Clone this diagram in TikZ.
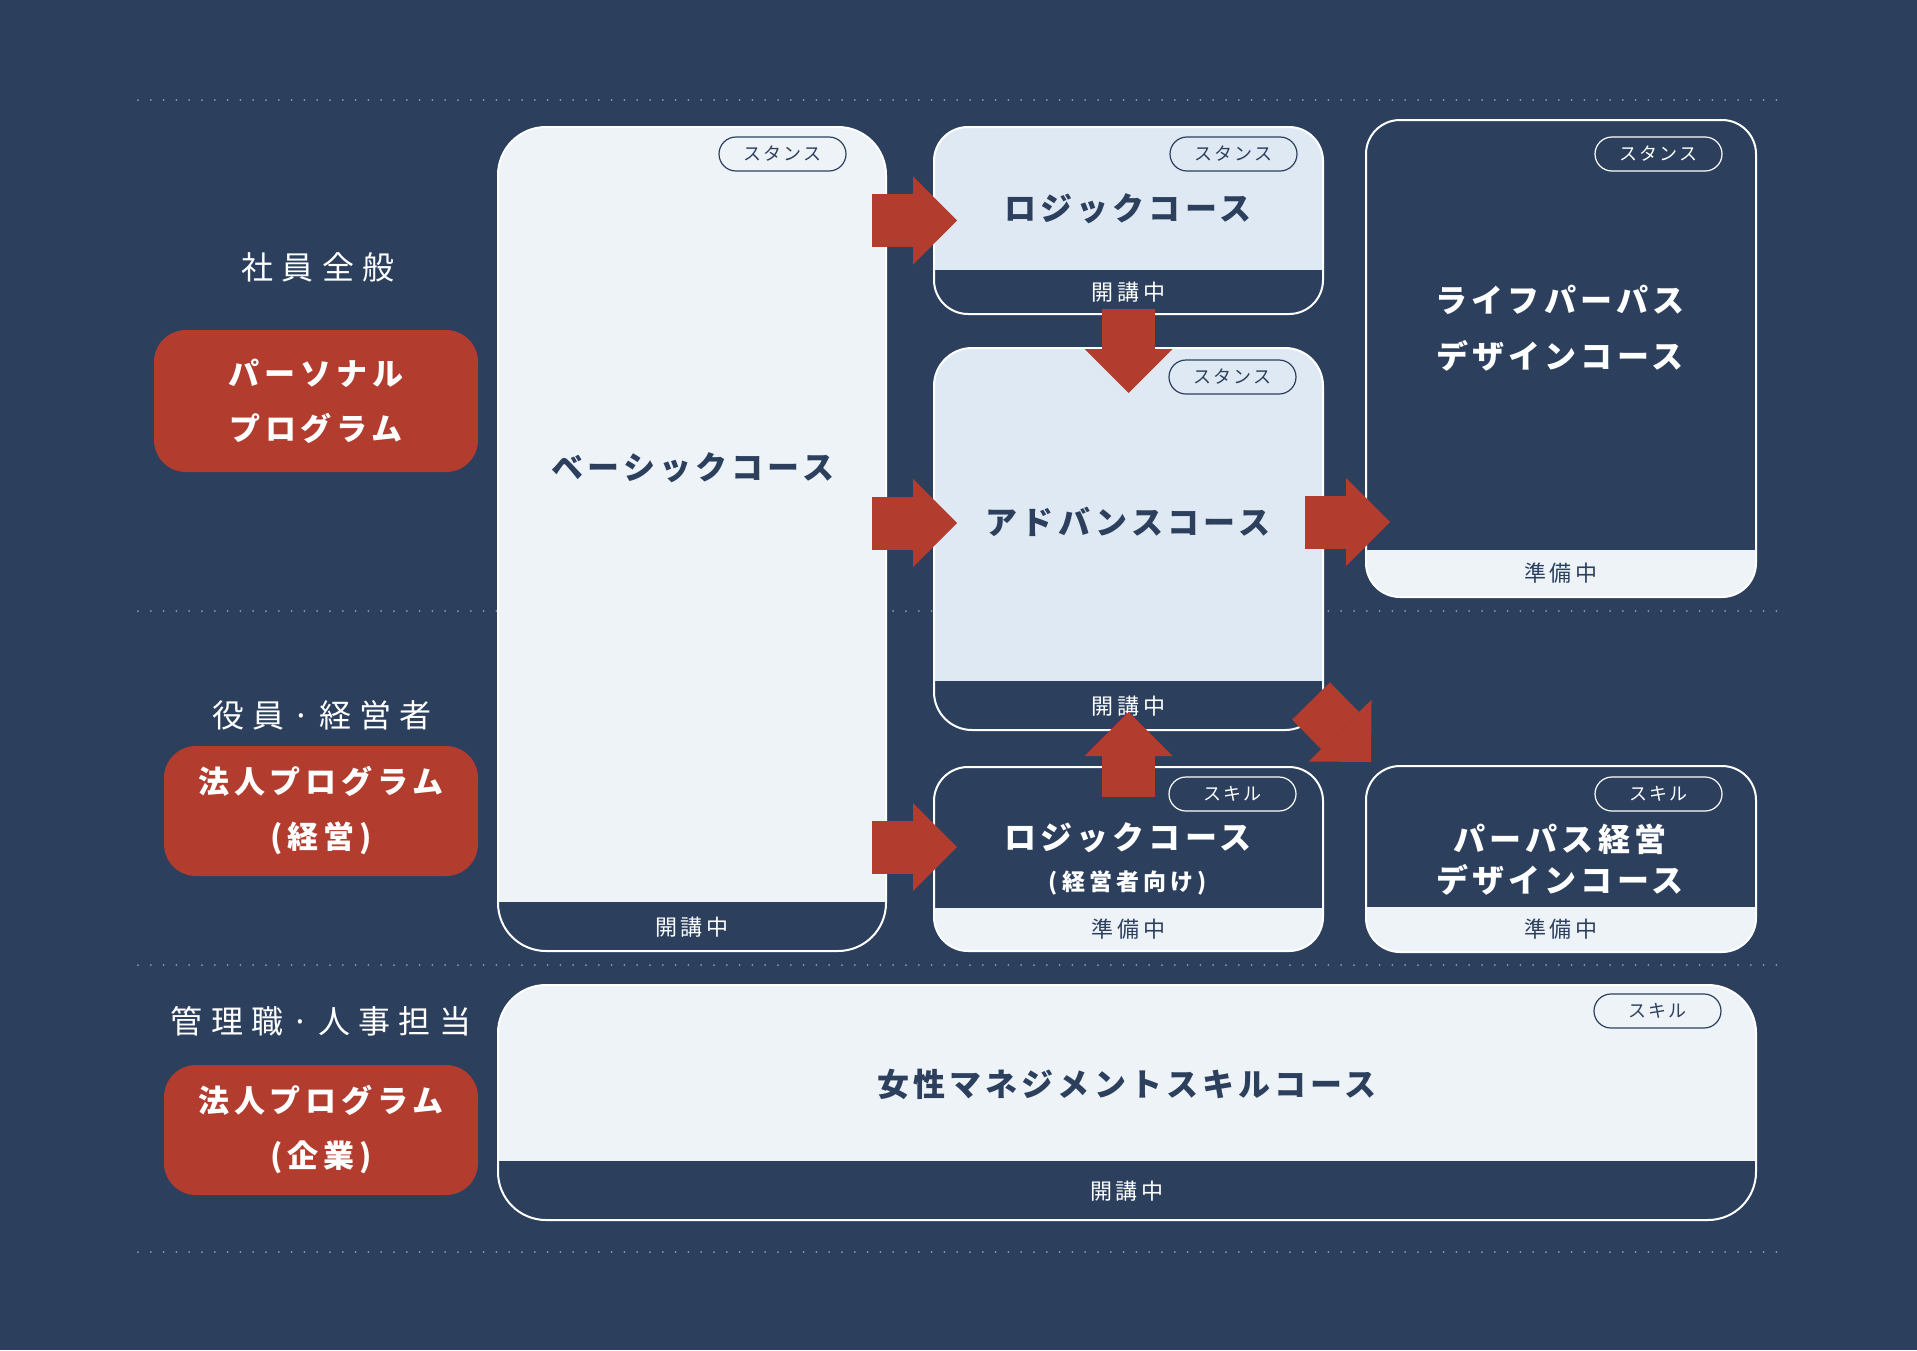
\documentclass[tikz,border=0pt]{standalone}
\usepackage{fontspec}
\usetikzlibrary{arrows.meta,calc,positioning}
\setmainfont{Noto Sans CJK JP}
\definecolor{navy}{HTML}{2C405E}
\definecolor{brick}{HTML}{B23C2E}
\definecolor{paper}{HTML}{EEF3F8}
\definecolor{mist}{HTML}{DFE9F3}
\definecolor{dotgray}{HTML}{8C9BB0}

\begin{document}
\begin{tikzpicture}[x=1pt,y=-1pt,
 every node/.style={inner sep=0pt,outer sep=0pt},
 card/.style={draw=white,line width=2pt,rounded corners=34pt},
 lightcard/.style={card,fill=paper,path picture={\fill[navy,sharp corners]
  ([yshift=#1]path picture bounding box.south west) rectangle
  (path picture bounding box.south east);}},
 darkcard/.style={card,fill=navy,path picture={\fill[paper,sharp corners]
  ([yshift=#1]path picture bounding box.south west) rectangle
  (path picture bounding box.south east);}},
 program/.style={fill=brick,rounded corners=32pt,text=white,align=center,
  font=\fontsize{31}{55}\selectfont\bfseries\addfontfeatures{LetterSpace=16}},
 target/.style={text=white,font=\fontsize{32}{38}\selectfont\addfontfeatures{LetterSpace=26}},
 title/.style={font=\fontsize{32}{56}\selectfont\bfseries\addfontfeatures{LetterSpace=13},align=center},
 status/.style={font=\fontsize{22}{26}\selectfont\addfontfeatures{LetterSpace=18}},
 tag/.style={draw,line width=1.2pt,rounded corners=17pt,minimum width=127pt,
  minimum height=34pt,anchor=north east,font=\fontsize{18}{22}\selectfont\addfontfeatures{LetterSpace=12}},
 flow/.style={draw=brick,line width=53pt,
  -{Triangle[length=44pt,width=88pt,line width=0pt]}},
 rule/.style={draw=dotgray,line width=2pt,line cap=round,dash pattern=on 0pt off 12.8pt}]
\useasboundingbox[fill=navy] (0,0) rectangle (1917,1350);
\foreach \y in {100,611,965,1252} \draw[rule] (138,\y) -- (1783,\y);
% target groups
\node[target] (all) at (318,267) {社員全般};
\node[program,minimum width=324pt,minimum height=142pt] (personal) at (316,401) {パーソナル\\プログラム};
\node[target] (exec) at (322,715) {役員·経営者};
\node[program,minimum width=314pt,minimum height=130pt] (corpmgmt) at (321,811) {法人プログラム\\(経営)};
\node[target] (hr) at (321,1021) {管理職·人事担当};
\node[program,minimum width=314pt,minimum height=130pt] (corpfirm) at (321,1130) {法人プログラム\\(企業)};
% courses
\node[lightcard=49pt,rounded corners=48pt,minimum width=388pt,minimum height=824pt] (basic) at (692,539) {};
\node[lightcard=44pt,fill=mist,minimum width=389pt,minimum height=187pt,
 right=48pt of basic.north east,anchor=north west] (logic) {};
\node[lightcard=49pt,fill=mist,rounded corners=38pt,minimum width=389pt,minimum height=382pt,
 below=34pt of logic] (advance) {};
\node[darkcard=43pt,minimum width=389pt,minimum height=184pt,below=37pt of advance] (logicexec) {};
\node[darkcard=47pt,minimum width=390pt,minimum height=477pt,
 right=43pt of logic.north east,anchor=north west,yshift=7pt] (life) {};
\node[darkcard=45pt,minimum width=390pt,minimum height=186pt,right=43pt of logicexec] (purpose) {};
\node[lightcard=59pt,rounded corners=48pt,minimum width=1258pt,minimum height=235pt,
 below=34pt of basic.south west,anchor=north west] (women) {};
% titles
\node[title,text=navy] (basicT) at (693,468) {ベーシックコース};
\node[title,text=navy] (logicT) at (1128,209) {ロジックコース};
\node[title,text=navy] (advanceT) at (1128,522) {アドバンスコース};
\node[title,text=white] (lifeT) at (1560,328) {ライフパーパス\\デザインコース};
\node[title,text=white] (logicexecT) at (1128,838) {ロジックコース};
\node[text=white,font=\fontsize{23}{26}\selectfont\bfseries\addfontfeatures{LetterSpace=18}]
 (logicexecS) at (1128,883) {(経営者向け)};
\node[title,text=white,font=\fontsize{32}{41}\selectfont\bfseries\addfontfeatures{LetterSpace=13}]
 (purposeT) at (1560,860) {パーパス経営\\デザインコース};
\node[title,text=navy] (womenT) at (1127,1084) {女性マネジメントスキルコース};
% status bands
\node[status,text=white] (basicS) at ($(basic.south)+(0,-24)$) {開講中};
\node[status,text=white] (logicS) at ($(logic.south)+(0,-22)$) {開講中};
\node[status,text=white] (advanceS) at ($(advance.south)+(0,-24)$) {開講中};
\node[status,text=navy] (lifeS) at ($(life.south)+(0,-24)$) {準備中};
\node[status,text=navy] (logicexecB) at ($(logicexec.south)+(0,-22)$) {準備中};
\node[status,text=navy] (purposeS) at ($(purpose.south)+(0,-23)$) {準備中};
\node[status,text=white] (womenS) at ($(women.south)+(0,-29)$) {開講中};
% tags
\node[tag,draw=navy,text=navy] (basicG) at ($(basic.north east)+(-40,10)$) {スタンス};
\node[tag,draw=navy,text=navy] (logicG) at ($(logic.north east)+(-26,10)$) {スタンス};
\node[tag,draw=white,text=white] (lifeG) at ($(life.north east)+(-34,17)$) {スタンス};
\node[tag,draw=navy,text=navy] (advanceG) at ($(advance.north east)+(-27,12)$) {スタンス};
\node[tag,draw=white,text=white] (logicexecG) at ($(logicexec.north east)+(-27,10)$) {スキル};
\node[tag,draw=white,text=white] (purposeG) at ($(purpose.north east)+(-34,11)$) {スキル};
\node[tag,draw=navy,text=navy] (womenG) at ($(women.north east)+(-35,9)$) {スキル};
% flows
\draw[flow] ($(basic.east |- logic.west)+(-14,0)$) -- ($(logic.west)+(23,0)$);
\draw[flow] ($(basic.east |- advance.west)+(-14,-16)$) -- ($(advance.west)+(23,-16)$);
\draw[flow] ($(basic.east |- logicexec.west)+(-14,-12)$) -- ($(logicexec.west)+(23,-12)$);
\draw[flow] ($(logic.south)+(0,-5)$) -- ($(advance.north)+(0,45)$);
\draw[flow] ($(advance.east)+(-18,-17)$) -- ($(life.west |- advance.east)+(24,-17)$);
\draw[flow] ($(logicexec.north)+(0,30)$) -- ($(advance.south)+(0,-18)$);
\draw[flow] ($(advance.south east)+(-12,-29)$) -- ($(purpose.north west)+(5,-4)$);
\end{tikzpicture}
\end{document}
